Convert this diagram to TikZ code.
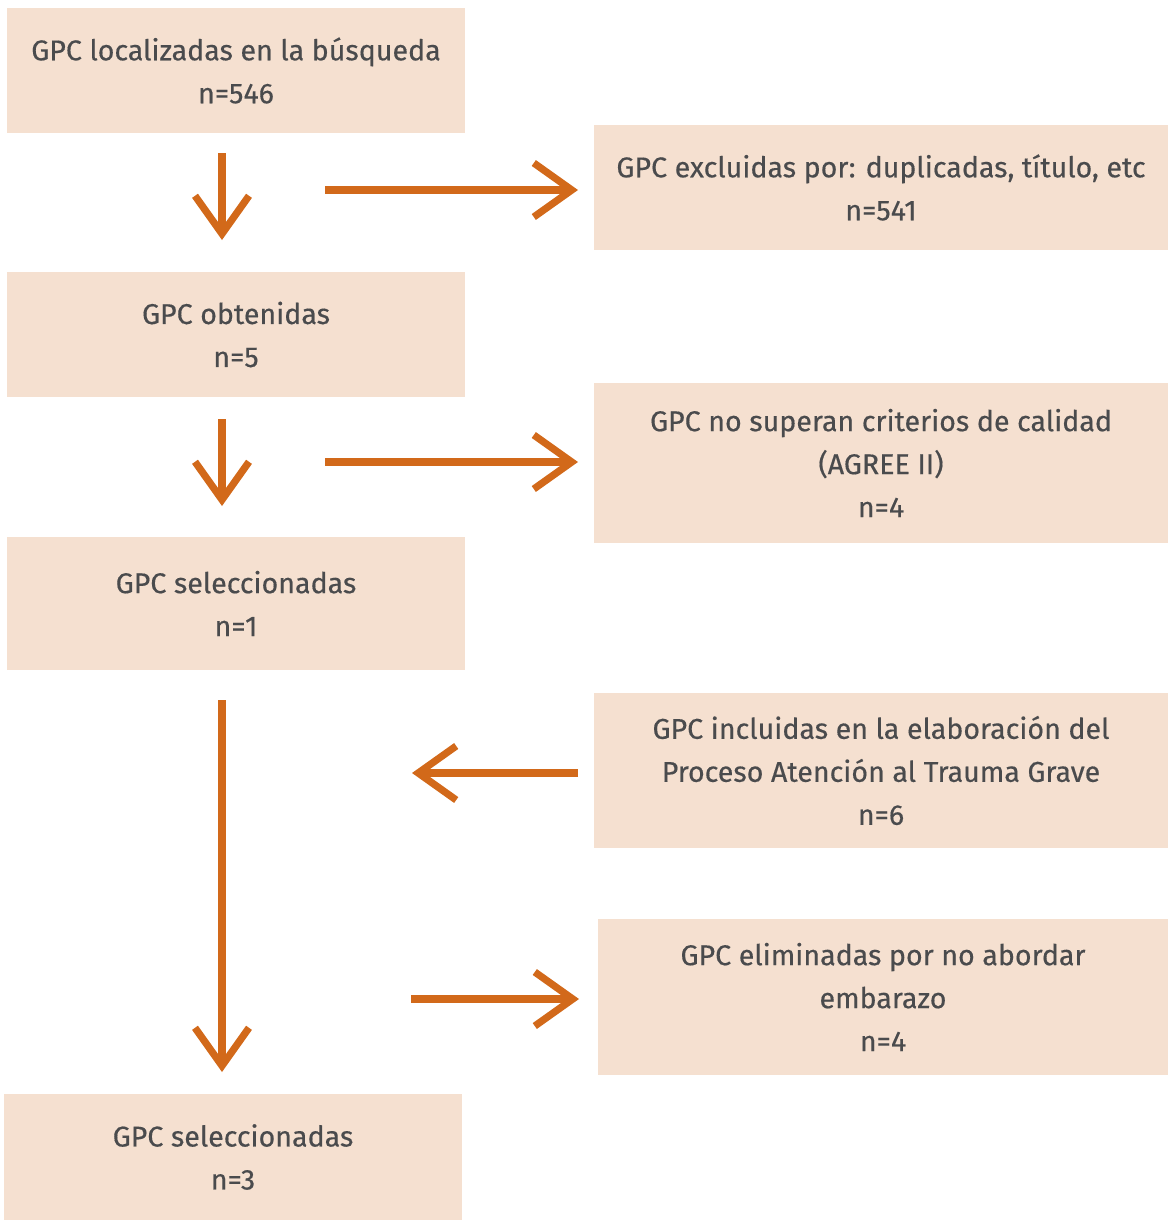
\documentclass[tikz,border=0pt]{standalone}
\usepackage{fontspec}
\setmainfont{Fira Sans}[FakeBold=0.4]
\usepackage{tikz}
\usetikzlibrary{arrows.meta,positioning}
\definecolor{boxfill}{HTML}{F5E0D0}
\definecolor{arrowc}{HTML}{D2691A}
\definecolor{textc}{HTML}{4A4B4D}
\tikzset{
block/.style = {fill=boxfill, rectangle, inner sep=0pt, align=center, text=textc,
  font=\fontsize{14.3}{21.5}\selectfont},
narrow/.style = {block, minimum width=229pt},
wide/.style = {block, minimum width=287pt},
tmp/.style  = {coordinate},
flow/.style = {draw=arrowc, line width=3.6pt, -{Straight Barb[length=19pt, width=27pt, line width=3.6pt]}}
}
\begin{document}
\begin{tikzpicture}[x=0.5pt, y=-0.5pt]
  \useasboundingbox (0,0) rectangle (1168,1221);
  % left column
  \node [narrow, minimum height=62.5pt] (loc)   at (236,70.5)  {GPC localizadas en la búsqueda\\n=546};
  \node [narrow, minimum height=62.5pt] (obt)   at (236,334.5) {GPC obtenidas\\n=5};
  \node [narrow, minimum height=66.5pt] (sel)   at (236,603.5) {GPC seleccionadas\\n=1};
  \node [narrow, minimum height=63pt]   (fin)   at (233,1157)  {GPC seleccionadas\\n=3};
  % right column
  \node [wide, minimum height=62.5pt] (excl)  at (881,187.5) {GPC excluidas por: duplicadas, título, etc\\n=541};
  \node [wide, minimum height=80pt]   (agree) at (881,463)   {GPC no superan criterios de calidad\\(AGREE II)\\n=4};
  \node [wide, minimum height=77.5pt] (incl)  at (881,770.5) {GPC incluidas en la elaboración del\\Proceso Atención al Trauma Grave\\n=6};
  \node [block, minimum width=285pt, minimum height=78pt] (elim) at (883,997) {GPC eliminadas por no abordar\\embarazo\\n=4};

  % arrow ends
  \node [tmp] (d1a) at (222,153) {};
  \node [tmp] (d1b) at (222,240) {};
  \node [tmp] (r1a) at (325,190) {};
  \node [tmp] (r1b) at (578,190) {};
  \node [tmp] (d2a) at (222,419) {};
  \node [tmp] (d2b) at (222,506) {};
  \node [tmp] (r2a) at (325,462) {};
  \node [tmp] (r2b) at (578,462) {};
  \node [tmp] (d3a) at (222,700) {};
  \node [tmp] (d3b) at (222,1072) {};
  \node [tmp] (l1a) at (578,773) {};
  \node [tmp] (l1b) at (412,773) {};
  \node [tmp] (r3a) at (411,999) {};
  \node [tmp] (r3b) at (579,999) {};

  \draw [flow] (d1a) -- (d1b);
  \draw [flow] (r1a) -- (r1b);
  \draw [flow] (d2a) -- (d2b);
  \draw [flow] (r2a) -- (r2b);
  \draw [flow] (d3a) -- (d3b);
  \draw [flow] (l1a) -- (l1b);
  \draw [flow] (r3a) -- (r3b);
\end{tikzpicture}
\end{document}
